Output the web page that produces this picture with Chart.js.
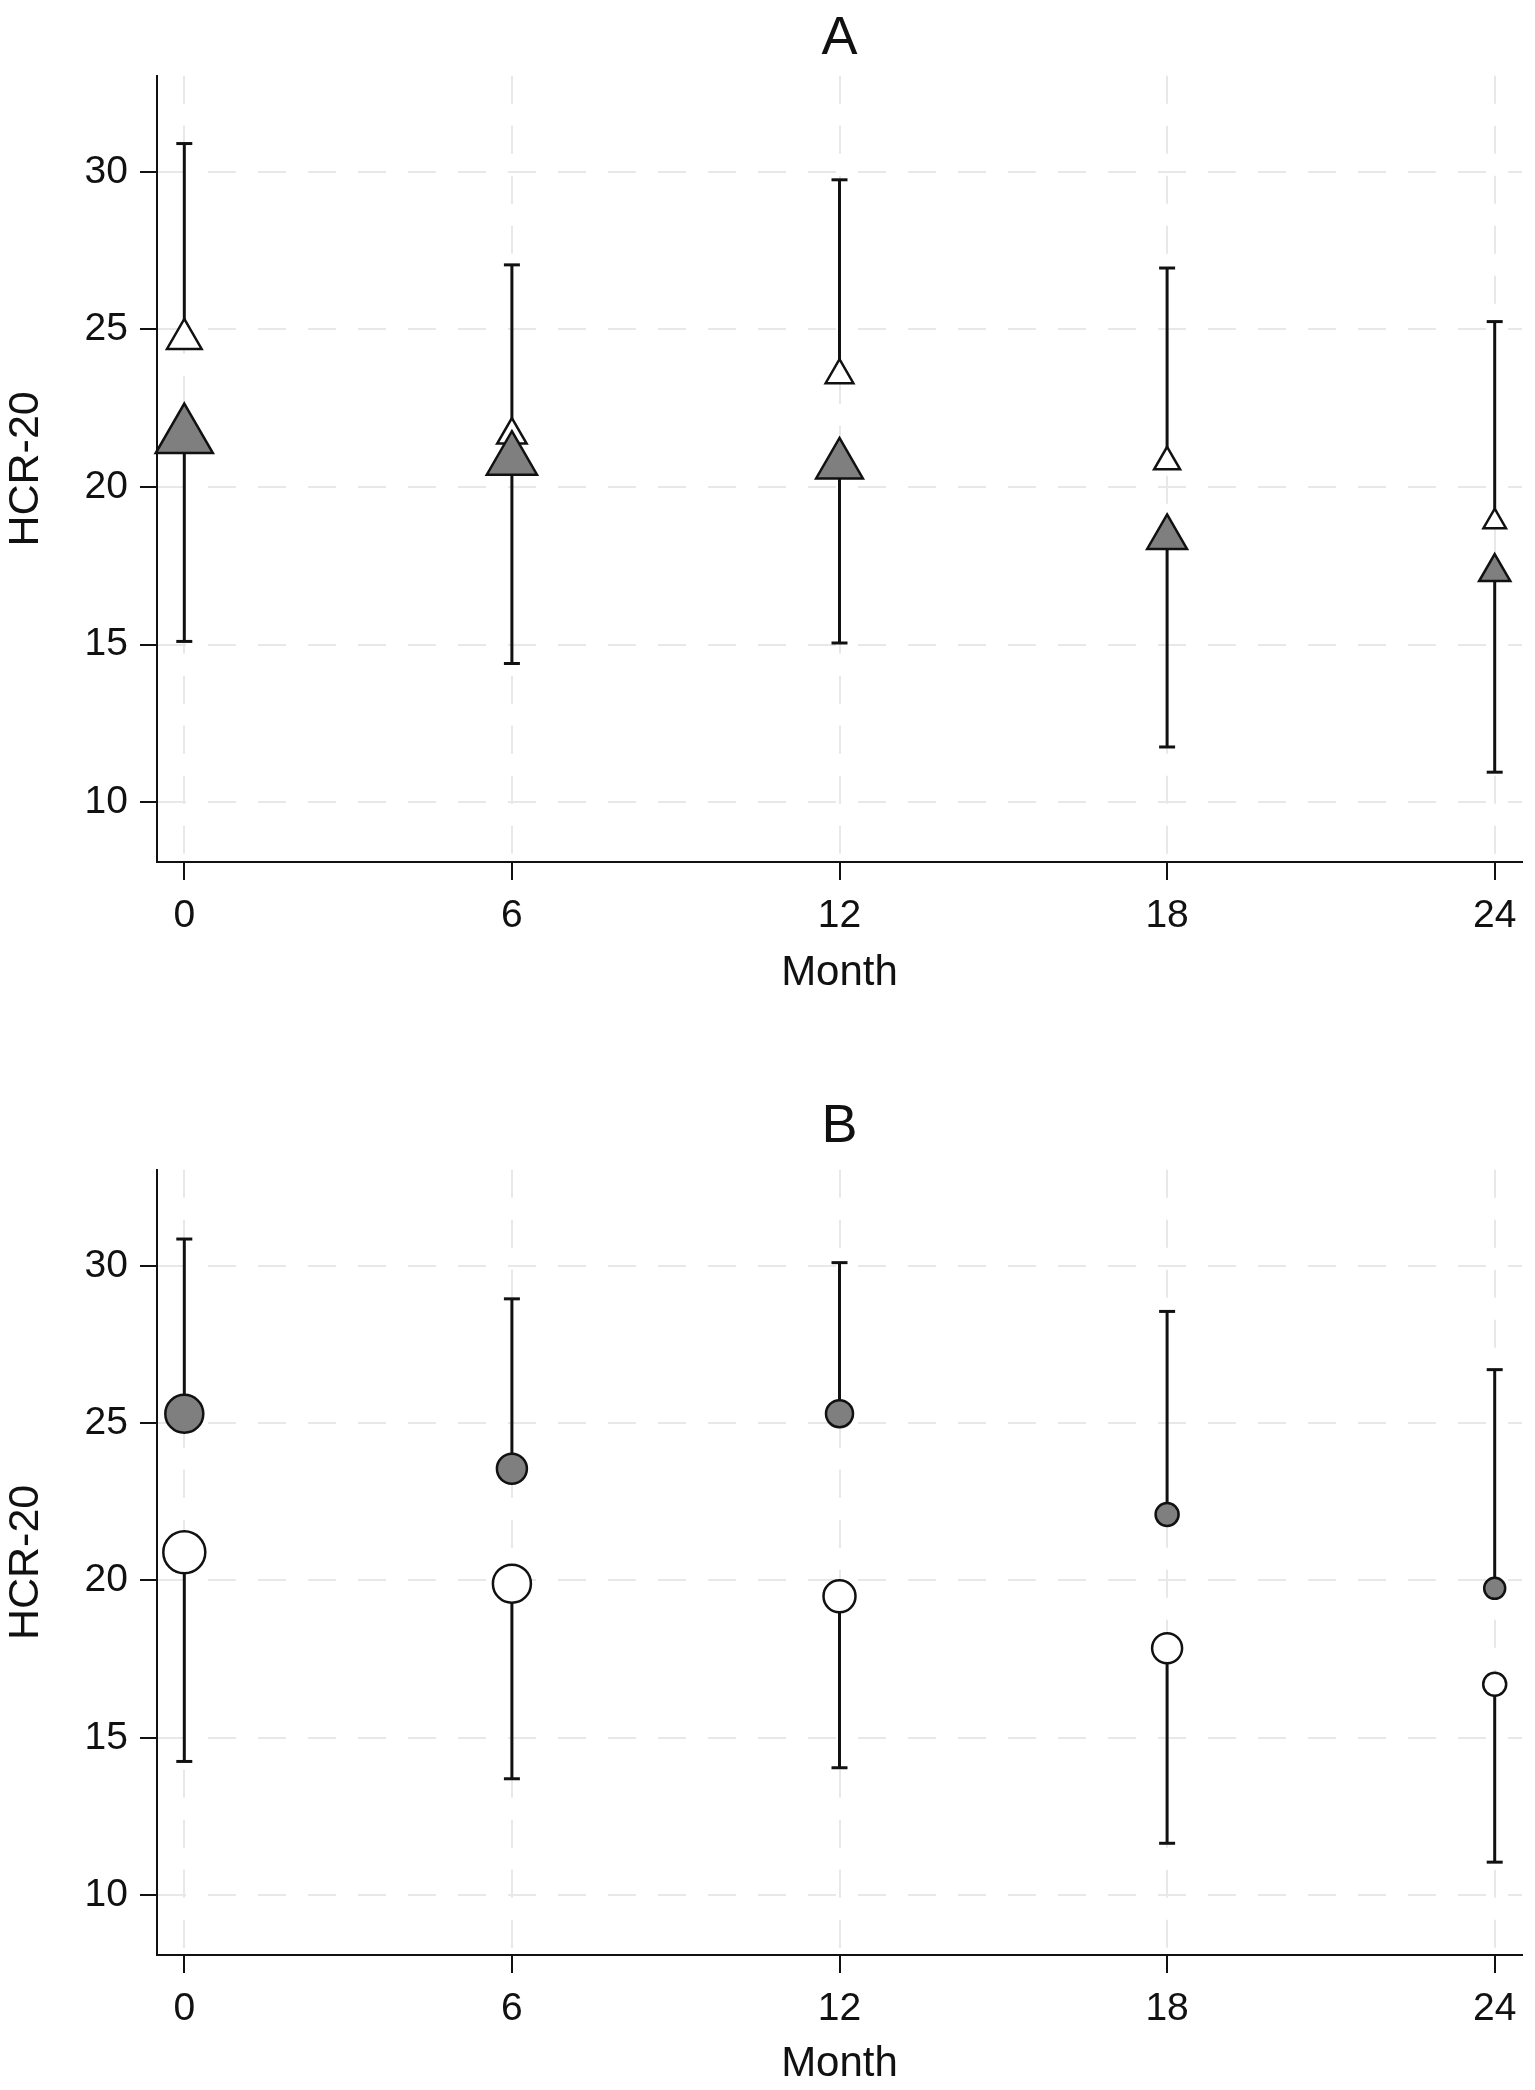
<!DOCTYPE html>
<html>
<head>
<meta charset="utf-8">
<script src="https://cdn.jsdelivr.net/npm/chart.js@4.4.1/dist/chart.umd.min.js"></script>
<style>
  html, body { margin: 0; padding: 0; background: #fff; }
  canvas { display: block; }
</style>
</head>
<body>
<canvas id="chartA" width="1535" height="1000"></canvas>
<canvas id="chartB" width="1535" height="1090"></canvas>
<script>
const months = [0, 6, 12, 18, 24];
const xTicks = [0, 6, 12, 18, 24];
const yTicks = [10, 15, 20, 25, 30];

// panel A: triangles (open = upper bar, filled = lower bar)
const aOpenMean = [24.7, 21.65, 23.55, 20.8, 18.9];
const aOpenUpper = [30.9, 27.05, 29.75, 26.95, 25.25];
const aFilledMean = [21.6, 20.85, 20.7, 18.4, 17.3];
const aFilledLower = [15.1, 14.4, 15.05, 11.75, 10.95];

// panel B: circles (filled = upper bar, open = lower bar)
const bFilledMean = [25.3, 23.55, 25.3, 22.1, 19.75];
const bFilledUpper = [30.85, 28.95, 30.1, 28.55, 26.7];
const bOpenMean = [20.9, 19.9, 19.5, 17.85, 16.7];
const bOpenLower = [14.25, 13.7, 14.05, 11.65, 11.05];

// marker radii (style only)
const aFilledSize = [33, 29, 27, 23, 18];
const aOpenSize = [20, 17, 16, 15, 13];
const bFilledSize = [19, 15, 13.5, 11.5, 10.5];
const bOpenSize = [21, 19, 16, 15, 11.5];

const FONT = '"Liberation Sans", Arial, Helvetica, sans-serif';
const INK = '#111';
const GRID = '#e8e8e8';
const GREY = '#7f7f7f';

const whiskers = (means, ends) => months.map((m, i) => ({
  type: 'scatter',
  showLine: true,
  data: [{ x: m, y: means[i] }, { x: m, y: ends[i] }],
  borderColor: INK,
  borderWidth: 3,
  pointRadius: 0,
  clip: false,
  order: 3
}));

const caps = (ends) => ({
  type: 'scatter',
  data: months.map((m, i) => ({ x: m, y: ends[i] })),
  pointStyle: 'line',
  pointRadius: 8,
  pointBorderColor: INK,
  pointBorderWidth: 3,
  clip: false,
  order: 2
});

const markers = (means, style, fill, sizes, order) => ({
  type: 'scatter',
  data: months.map((m, i) => ({ x: m, y: means[i] })),
  pointStyle: style,
  pointRadius: sizes,
  pointBackgroundColor: fill,
  pointBorderColor: INK,
  pointBorderWidth: 2.5,
  clip: false,
  order
});

const makeChart = (id, title, padTop, titlePadTop, titlePadBottom, xHeight, monthPad, datasets) => {
  return new Chart(document.getElementById(id), {
    type: 'scatter',
    data: { datasets },
    options: {
      responsive: false,
      animation: false,
      events: [],
      layout: { autoPadding: false, padding: { top: padTop, right: 13, left: 0, bottom: 0 } },
      plugins: {
        legend: { display: false },
        tooltip: { enabled: false },
        title: {
          display: true,
          text: title,
          fullSize: false,
          color: INK,
          font: { family: FONT, size: 54, weight: 'normal' },
          padding: { top: titlePadTop, bottom: titlePadBottom }
        }
      },
      scales: {
        x: {
          type: 'linear',
          min: -0.5,
          max: 24.5,
          afterBuildTicks: s => { s.ticks = xTicks.map(v => ({ value: v })); },
          afterFit: s => { s.height = xHeight; },
          grid: { color: GRID, lineWidth: 2, tickLength: 18, tickColor: INK, tickWidth: 2 },
          border: { color: INK, width: 2, dash: [28, 22] },
          ticks: {
            color: INK, padding: 13, maxRotation: 0, autoSkip: false,
            font: { family: FONT, size: 39 },
            callback: v => String(v)
          },
          title: {
            display: true, text: 'Month', color: INK,
            font: { family: FONT, size: 42 },
            padding: { top: 0, bottom: monthPad }
          }
        },
        y: {
          type: 'linear',
          min: 8.1,
          max: 33.05,
          afterBuildTicks: s => { s.ticks = yTicks.map(v => ({ value: v })); },
          afterFit: s => { s.width = 157; },
          grid: { color: GRID, lineWidth: 2, tickLength: 17, tickColor: INK, tickWidth: 2 },
          border: { color: INK, width: 2, dash: [28, 22] },
          ticks: {
            color: INK, padding: 12,
            font: { family: FONT, size: 39 },
            callback: v => String(v)
          },
          title: {
            display: true, text: 'HCR-20', color: INK,
            font: { family: FONT, size: 43 },
            padding: { top: 0, bottom: 0 }
          }
        }
      }
    }
  });
};

makeChart('chartA', 'A', 0, 7, 4, 138, 1, [
  markers(aFilledMean, 'triangle', GREY, aFilledSize, 0),
  markers(aOpenMean, 'triangle', '#fff', aOpenSize, 1),
  caps(aOpenUpper),
  caps(aFilledLower),
  ...whiskers(aOpenMean, aOpenUpper),
  ...whiskers(aFilledMean, aFilledLower)
]);

makeChart('chartB', 'B', 90, 5, 10, 135, 0, [
  markers(bFilledMean, 'circle', GREY, bFilledSize, 0),
  markers(bOpenMean, 'circle', '#fff', bOpenSize, 1),
  caps(bFilledUpper),
  caps(bOpenLower),
  ...whiskers(bFilledMean, bFilledUpper),
  ...whiskers(bOpenMean, bOpenLower)
]);
</script>
</body>
</html>
